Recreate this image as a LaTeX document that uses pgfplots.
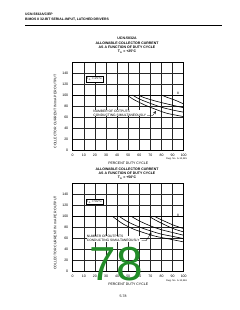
\documentclass[border=0pt]{standalone}
\usepackage{fontspec}
\setmainfont{Liberation Sans}
\usepackage{pgfplots}
\pgfplotsset{compat=1.18}
\definecolor{grn}{RGB}{34,140,40}
\newcommand{\tf}{\fontsize{3.5}{4}\selectfont}
\newcommand{\smf}{\fontsize{3.3}{3.8}\selectfont}
\begin{document}
\begin{tikzpicture}[x=1pt,y=1pt]
\useasboundingbox (0,0) rectangle (240,310);
\pgfplotsset{
  dc/.style={
    scale only axis, width=111pt, height=88.3pt,
    xmin=0,xmax=100,ymin=0,ymax=160,
    xtick={0,10,...,100}, ytick={0,20,...,140},
    grid=major, major grid style={black!85,line width=0.45pt},
    axis line style={line width=0.7pt},
    major tick length=0pt,
    tick label style={font=\tf},
    /pgf/number format/assume math mode=true,
    yticklabel style={xshift=-1pt},
    xticklabel style={yshift=-0.3pt},
    xlabel={PERCENT DUTY CYCLE},
    ylabel={COLLECTOR CURRENT IN mA PER OUTPUT},
    label style={font=\tf},
    xlabel style={yshift=1.5pt},
    ylabel style={at={(ticklabel cs:0.44)}, anchor=near ticklabel, yshift=-1pt},
    clip=false,
  }
}
% header
\node[anchor=west,font=\bfseries\fontsize{3.4}{4}\selectfont,inner sep=0] at (25,296) {UCN-5832A/C/EP};
\node[anchor=west,font=\bfseries\fontsize{3.4}{4}\selectfont,inner sep=0] at (25,290.7) {BiMOS II 32-BIT SERIAL-INPUT, LATCHED DRIVERS};
\draw[line width=1.2pt] (25,284.7) -- (222,284.7);
\node[font=\bfseries\tf,inner sep=0] at (127,271.7) {UCN-5832A};
\node[font=\bfseries\tf,inner sep=0,align=center] at (127,262.7) {ALLOWABLE COLLECTOR CURRENT\\AS A FUNCTION OF DUTY CYCLE\\T\textsubscript{A} = +25°C};

% top plot
\begin{axis}[dc, at={(72.7pt,159.7pt)}, anchor=south west]
\addplot[line width=0.8pt] coordinates {(0,100) (100,100)};
\addplot[line width=0.6pt,smooth] coordinates {(49,100) (55,92) (65,82) (75,74) (85,67) (100,61)};
\addplot[line width=0.6pt,smooth] coordinates {(54,100) (60,93) (70,85) (80,78) (90,73) (100,69)};
\addplot[line width=0.6pt,smooth] coordinates {(59,100) (65,95) (75,89) (85,84) (100,77)};
\addplot[line width=0.6pt,smooth] coordinates {(80,100) (85,96) (92,91) (100,84)};
\node[draw,fill=white,font=\smf,inner sep=1pt] at (axis cs:19.6,129) {T\textsubscript{A} = 25°C};
\node[anchor=west,font=\smf,align=left,inner sep=0,fill=white] at (axis cs:18.5,67.5) {NUMBER OF OUTPUTS\\CONDUCTING SIMULTANEOUSLY};
\draw[line width=0.3pt,-stealth] (axis cs:67,63) -- (axis cs:72,63) -- (axis cs:75,71);
\node[font=\smf,inner sep=0.5pt] at (axis cs:95,102.5) {8};
\node[font=\fontsize{2.4}{3}\selectfont,inner sep=0] at (axis cs:93.5,-16) {Dwg. No. A-12,345};
\end{axis}

% bottom title
\node[font=\bfseries\tf,inner sep=0,align=center] at (127,136.7) {ALLOWABLE COLLECTOR CURRENT\\AS A FUNCTION OF DUTY CYCLE\\T\textsubscript{A} = +50°C};

% bottom plot
\begin{axis}[dc, at={(72.7pt,38.3pt)}, anchor=south west]
\addplot[line width=0.8pt] coordinates {(0,100) (100,100)};
\addplot[line width=0.6pt,smooth] coordinates {(36,100) (45,87) (55,77) (65,70) (75,64) (85,60) (100,54)};
\addplot[line width=0.6pt,smooth] coordinates {(42,100) (50,90) (60,81) (70,74) (80,68) (90,64) (100,60)};
\addplot[line width=0.6pt,smooth] coordinates {(53,100) (60,92) (70,83) (80,76) (90,71) (100,66)};
\addplot[line width=0.6pt,smooth] coordinates {(69,100) (75,93) (85,83) (92,77) (100,72)};
\addplot[line width=0.6pt,smooth] coordinates {(74,100) (80,94) (90,85) (100,78)};
\node[draw,fill=white,font=\smf,inner sep=1pt] at (axis cs:19.6,127) {T\textsubscript{A} = 50°C};
\node[anchor=west,font=\smf,align=left,inner sep=0,fill=white] at (axis cs:12.6,60) {NUMBER OF OUTPUTS\\CONDUCTING SIMULTANEOUSLY};
\draw[line width=0.3pt,-stealth] (axis cs:62,56) -- (axis cs:66,56) -- (axis cs:71,71);
\node[font=\smf,inner sep=0.5pt] at (axis cs:95,102.5) {8};
\node[font=\fontsize{2.4}{3}\selectfont,inner sep=0] at (axis cs:93.5,-16) {Dwg. No. A-12,346};
\end{axis}

\node[font=\tf,inner sep=0] at (123,13.3) {5-78};
\node[font=\fontsize{47.7}{48}\selectfont,text=grn,inner sep=0] at (116.5,46) {78};
\end{tikzpicture}
\end{document}
